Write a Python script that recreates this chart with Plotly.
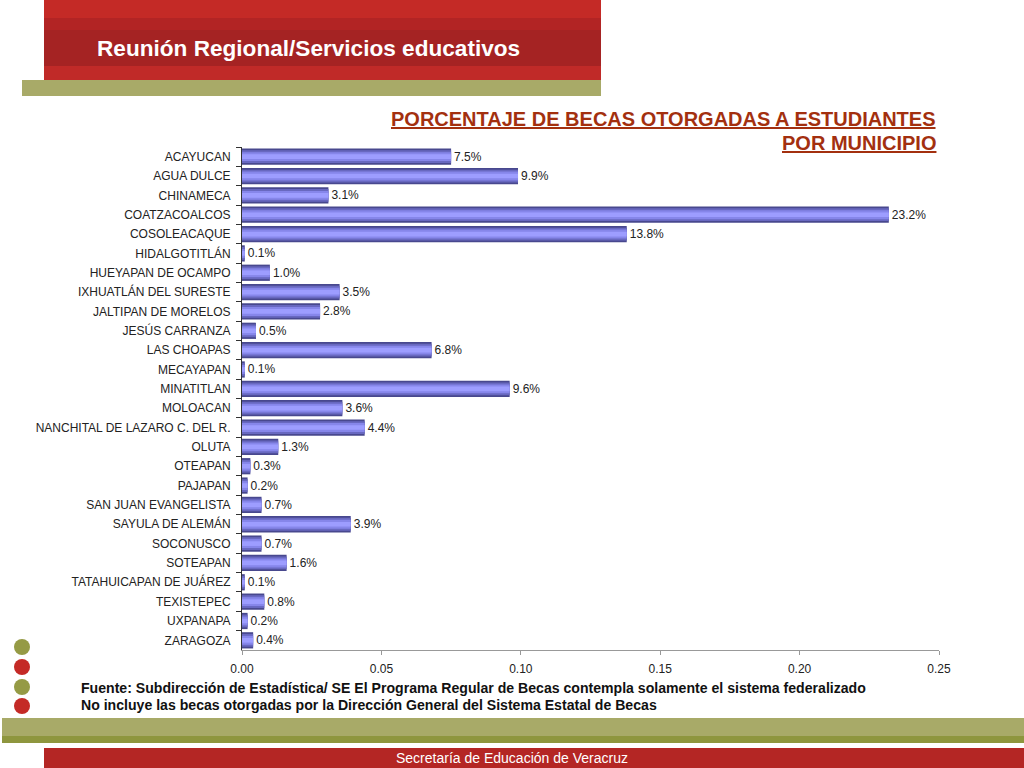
import plotly.graph_objects as go

municipios = ["ACAYUCAN", "AGUA DULCE", "CHINAMECA", "COATZACOALCOS", "COSOLEACAQUE",
              "HIDALGOTITLÁN", "HUEYAPAN DE OCAMPO", "IXHUATLÁN DEL SURESTE", "JALTIPAN DE MORELOS",
              "JESÚS CARRANZA", "LAS CHOAPAS", "MECAYAPAN", "MINATITLAN", "MOLOACAN",
              "NANCHITAL DE LAZARO C. DEL R.", "OLUTA", "OTEAPAN", "PAJAPAN", "SAN JUAN EVANGELISTA",
              "SAYULA DE ALEMÁN", "SOCONUSCO", "SOTEAPAN", "TATAHUICAPAN DE JUÁREZ", "TEXISTEPEC",
              "UXPANAPA", "ZARAGOZA"]
porcentaje = [0.075, 0.099, 0.031, 0.232, 0.138, 0.001, 0.010, 0.035, 0.028, 0.005, 0.068, 0.001,
              0.096, 0.036, 0.044, 0.013, 0.003, 0.002, 0.007, 0.039, 0.007, 0.016, 0.001, 0.008,
              0.002, 0.004]
x_ticks = [0.0, 0.05, 0.10, 0.15, 0.20, 0.25]

FONT = "Liberation Sans, Arial, Helvetica"
W, H = 1024, 768
ML, MR, MT, MB = 242, 85, 147, 118
PW, PH = W - ML - MR, H - MT - MB

def px(x):
    return (x - ML) / PW

def py(y):
    return (H - MB - y) / PH

fig = go.Figure()

layers = [(0.84, "#48488e"), (0.66, "#6868c0"), (0.46, "#8686ea"), (0.24, "#9d9dff")]
for i, (w, c) in enumerate(layers):
    fig.add_trace(go.Bar(
        x=porcentaje, y=municipios, orientation="h", width=w,
        marker=dict(color=c, line=dict(width=0)),
        text=[f"{v*100:.1f}%" for v in porcentaje] if i == 0 else None,
        textposition="outside" if i == 0 else "none",
        textfont=dict(family=FONT, size=12, color="#222222"),
        cliponaxis=False, hoverinfo="skip", showlegend=False,
    ))

shapes = []
def rect(x0, y0, x1, y1, color):
    shapes.append(dict(type="rect", xref="paper", yref="paper",
                       x0=px(x0), x1=px(x1), y0=py(y1), y1=py(y0),
                       fillcolor=color, line=dict(width=0), layer="below"))

# header
rect(44, 0, 601, 18, "#c42a26")
rect(44, 18, 601, 30, "#b22424")
rect(44, 30, 601, 66, "#a52323")
rect(44, 66, 601, 80, "#c02a28")
rect(22, 80, 601, 96, "#a8aa68")
# footer
rect(2, 718, 1024, 736, "#a8aa68")
rect(2, 736, 1024, 743, "#8e963e")
rect(44, 748, 1024, 768, "#b42624")

# bullets
for cy, col in [(647, "#959a45"), (667, "#c42a26"), (687, "#959a45"), (706, "#c42a26")]:
    shapes.append(dict(type="circle", xref="paper", yref="paper",
                       x0=px(14), x1=px(30), y0=py(cy + 8), y1=py(cy - 8),
                       fillcolor=col, line=dict(width=0)))

def ann(text, x, y, size, color, xanchor="left", family=FONT):
    return dict(text=text, x=px(x), y=py(y), xref="paper", yref="paper", xanchor=xanchor,
                yanchor="middle", showarrow=False, font=dict(family=family, size=size, color=color))

annotations = [
    ann("<b>Reunión Regional/Servicios educativos</b>", 95, 48, 22.6, "white"),
    ann("<b><u>PORCENTAJE DE BECAS OTORGADAS A ESTUDIANTES</u></b>", 938, 119, 20, "#a3300f", "right"),
    ann("<b><u>POR MUNICIPIO</u></b>", 938, 143, 20, "#a3300f", "right"),
    ann("<b>Fuente: Subdirección de Estadística/ SE El Programa Regular de Becas contempla solamente el sistema federalizado</b>",
        79, 688, 14.1, "#111111"),
    ann("<b>No incluye las becas otorgadas por la Dirección General del Sistema Estatal de Becas</b>",
        79, 705, 14.1, "#111111"),
    ann("Secretaría de Educación de Veracruz", 512, 758, 14, "white", "center"),
]

fig.update_layout(
    width=W, height=H, margin=dict(l=ML, r=MR, t=MT, b=MB, autoexpand=False),
    paper_bgcolor="white", plot_bgcolor="white", barmode="overlay", bargap=0.15,
    shapes=shapes, annotations=annotations,
    xaxis=dict(range=[0, 0.25], tickvals=x_ticks, tickformat=".2f", showgrid=False, zeroline=False,
               showline=True, linecolor="#999999", linewidth=1, ticks="outside", ticklen=4,
               ticklabelstandoff=4,
               tickcolor="#999999", tickfont=dict(family=FONT, size=12, color="#222222")),
    yaxis=dict(autorange="reversed", showgrid=False, zeroline=False, showline=True,
               linecolor="#333333", linewidth=1, ticks="outside", ticklen=5, tickson="boundaries",
               ticklabelstandoff=8,
               tickcolor="#333333", tickfont=dict(family=FONT, size=12, color="#222222")),
    font=dict(family=FONT),
)

fig.write_html("out.html", config={"displayModeBar": False},
               post_script="document.body.style.margin='0';document.body.style.overflow='hidden';")
